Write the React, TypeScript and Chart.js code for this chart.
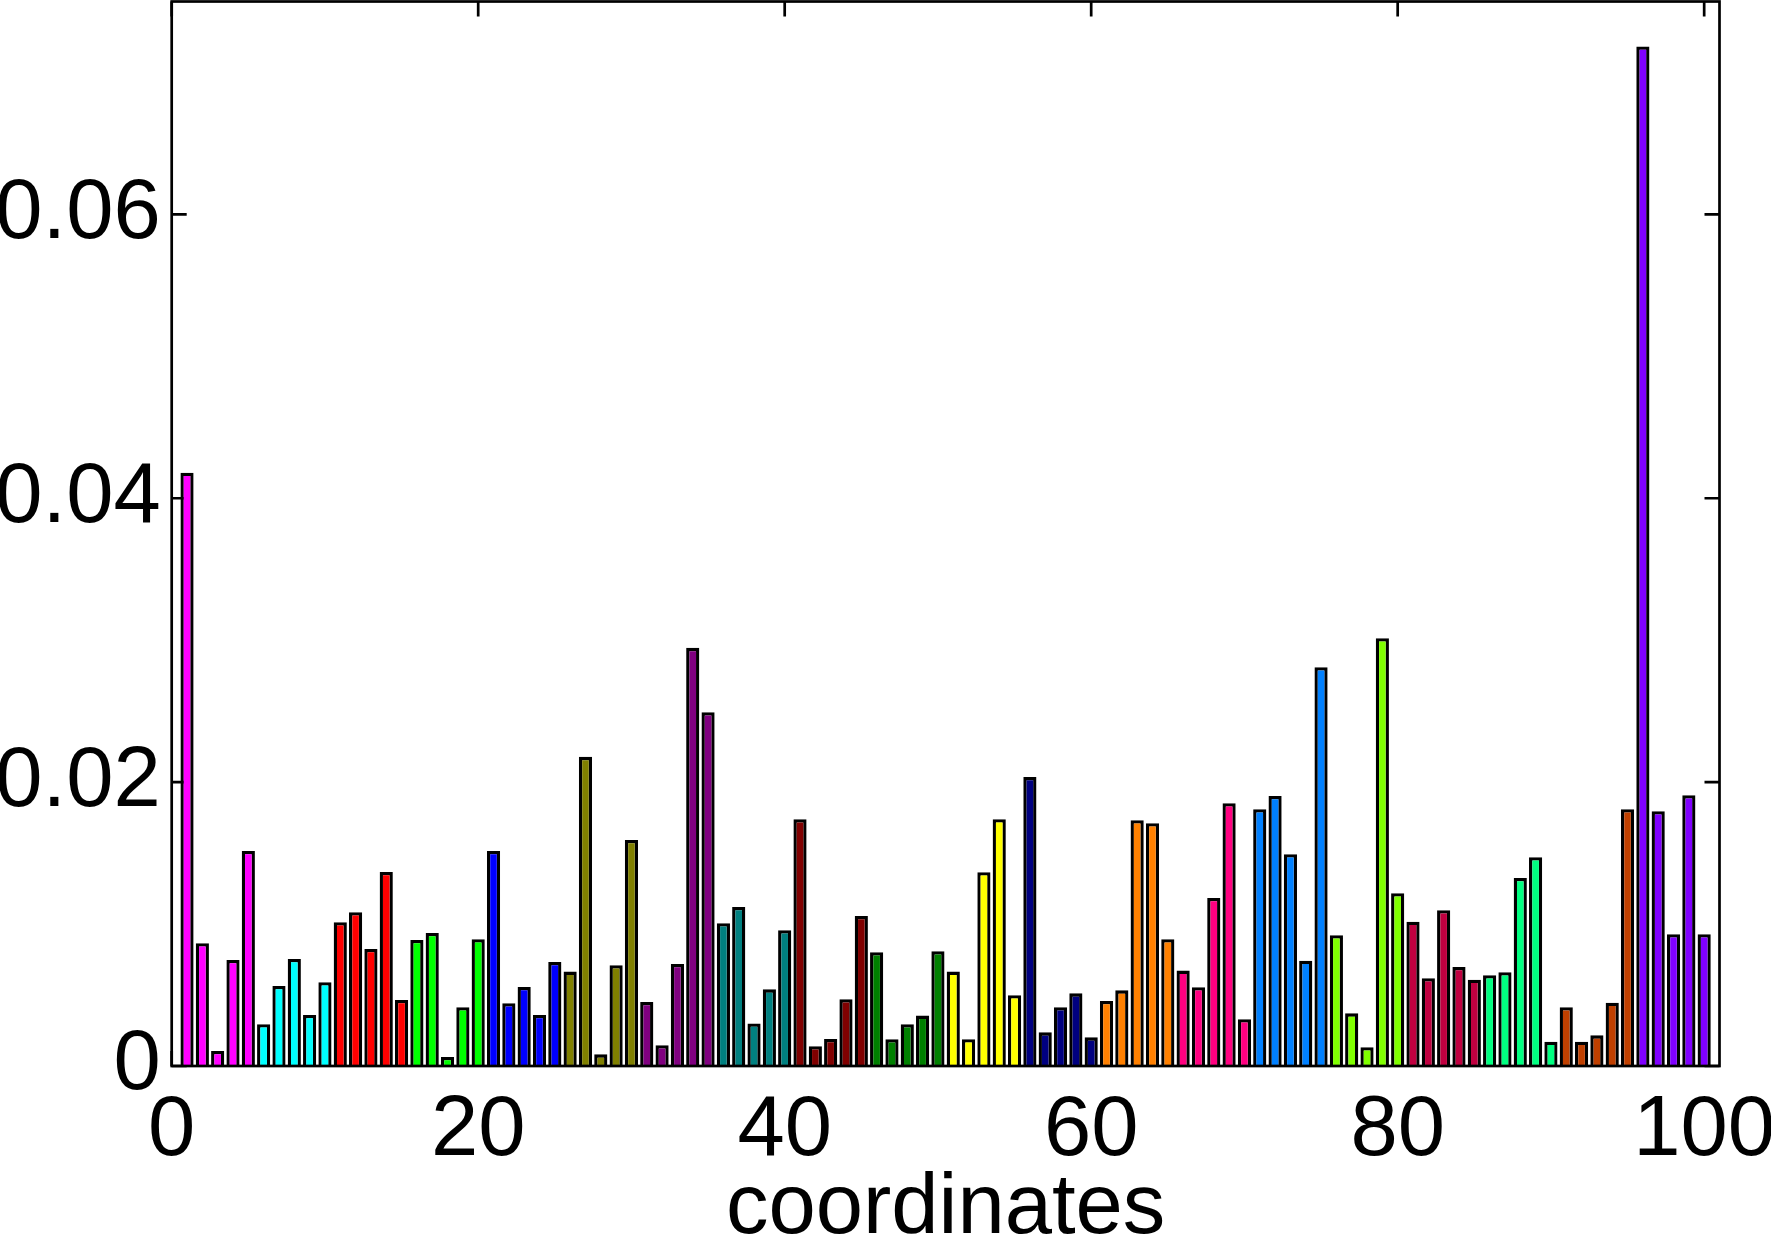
import React, { useEffect, useRef } from 'react';
import { Chart, registerables } from 'chart.js';

Chart.register(...registerables);

// ---------- data ----------
const coordinates = [
  1, 2, 3, 4, 5, 6, 7, 8, 9, 10,
  11, 12, 13, 14, 15, 16, 17, 18, 19, 20,
  21, 22, 23, 24, 25, 26, 27, 28, 29, 30,
  31, 32, 33, 34, 35, 36, 37, 38, 39, 40,
  41, 42, 43, 44, 45, 46, 47, 48, 49, 50,
  51, 52, 53, 54, 55, 56, 57, 58, 59, 60,
  61, 62, 63, 64, 65, 66, 67, 68, 69, 70,
  71, 72, 73, 74, 75, 76, 77, 78, 79, 80,
  81, 82, 83, 84, 85, 86, 87, 88, 89, 90,
  91, 92, 93, 94, 95, 96, 97, 98, 99, 100,
];

const values = [
  0.0418, 0.00865, 0.00106, 0.00747, 0.01515, 0.00294, 0.00564, 0.00754, 0.00359, 0.0059,
  0.01013, 0.01083, 0.00825, 0.01367, 0.00465, 0.00888, 0.00937, 0.00063, 0.00414, 0.00893,
  0.01515, 0.00442, 0.00557, 0.00359, 0.00733, 0.00665, 0.02178, 0.00082, 0.0071, 0.01593,
  0.00451, 0.00146, 0.00719, 0.02946, 0.02493, 0.01006, 0.0112, 0.003, 0.0054, 0.00956,
  0.01738, 0.00139, 0.0019, 0.0047, 0.01057, 0.00801, 0.00188, 0.00294, 0.00355, 0.00808,
  0.00665, 0.00188, 0.01365, 0.01738, 0.00498, 0.02037, 0.00237, 0.00414, 0.00512, 0.00202,
  0.00458, 0.00533, 0.01731, 0.0171, 0.00893, 0.00672, 0.00555, 0.01184, 0.01851, 0.00329,
  0.01809, 0.01903, 0.01492, 0.00742, 0.0281, 0.00922, 0.00371, 0.00132, 0.03014, 0.01217,
  0.01017, 0.00618, 0.01097, 0.00698, 0.00608, 0.00639, 0.0066, 0.01325, 0.01471, 0.00171,
  0.00414, 0.00171, 0.00216, 0.00446, 0.01809, 0.07183, 0.01795, 0.00928, 0.01908, 0.00928,
];

// one colour per group of five coordinates
const groupColors = [
  '#FF00FF', '#00FFFF', '#FF0000', '#00FF00', '#0000FF',
  '#808000', '#800080', '#008080', '#800000', '#008000',
  '#FFFF00', '#000080', '#FF8000', '#FF0080', '#0080FF',
  '#80FF00', '#C00040', '#00FF80', '#C04000', '#8000FF',
];

const xTickValues = [0, 20, 40, 60, 80, 100];
const xTickLabels = ['0', '20', '40', '60', '80', '100'];
const yTickValues = [0, 0.02, 0.04, 0.06];
const yTickLabels = ['0', '0.02', '0.04', '0.06'];
const xTitle = 'coordinates';

// ---------- layout / style ----------
const FONT = '"Liberation Sans", Arial, Helvetica, sans-serif';
const FONT_SIZE = 85;
const OFF_X = 60; // canvas shifted left so that y labels are cut like the reference
const W = 1871;
const H = 1278;
const AREA_LEFT = 171.7 + OFF_X;
const AREA_RIGHT = 1719.5 + OFF_X;
const AREA_TOP = 1.5;
const AREA_BOTTOM = 1066;
const TICK = 15;
const LINE = 2.7;

const framePlugin = {
  id: 'matlabFrame',
  beforeDatasetsDraw(chart: any) {
    const { ctx, chartArea: a, scales } = chart;
    const x = scales.x;
    const y = scales.y;
    ctx.save();
    ctx.strokeStyle = '#000';
    ctx.lineWidth = LINE;
    ctx.beginPath();
    for (const v of xTickValues) {
      const px = x.getPixelForValue(v);
      ctx.moveTo(px, a.top);
      ctx.lineTo(px, a.top + TICK);
      ctx.moveTo(px, a.bottom);
      ctx.lineTo(px, a.bottom - TICK);
    }
    for (const v of yTickValues) {
      const py = y.getPixelForValue(v);
      ctx.moveTo(a.left, py);
      ctx.lineTo(a.left + TICK, py);
      ctx.moveTo(a.right, py);
      ctx.lineTo(a.right - TICK, py);
    }
    ctx.stroke();
    ctx.restore();
  },
  afterDatasetsDraw(chart: any) {
    const { ctx, chartArea: a } = chart;
    ctx.save();
    ctx.strokeStyle = '#000';
    ctx.lineWidth = LINE;
    ctx.strokeRect(a.left, a.top, a.right - a.left, a.bottom - a.top);
    ctx.restore();
  },
};

export default function App() {
  const ref = useRef<HTMLCanvasElement | null>(null);

  useEffect(() => {
    if (!ref.current) return;
    const barColors = values.map((_, i) => groupColors[Math.floor(i / 5)]);
    const chart = new Chart(ref.current, {
      type: 'bar',
      data: {
        datasets: [
          {
            data: coordinates.map((c, i) => ({ x: c, y: values[i] })),
            backgroundColor: barColors,
            borderColor: '#000',
            borderWidth: 3.3,
            borderSkipped: 'start',
            barPercentage: 0.86,
            categoryPercentage: 1,
          } as any,
        ],
      },
      options: {
        responsive: false,
        animation: false,
        devicePixelRatio: 1,
        layout: {
          padding: { left: 0, top: AREA_TOP, right: W - AREA_RIGHT, bottom: 0 },
        },
        plugins: {
          legend: { display: false },
          tooltip: { enabled: false },
          title: { display: false },
        },
        scales: {
          x: {
            type: 'linear',
            min: 0,
            max: 101,
            offset: false,
            grid: { display: false, drawTicks: false, tickLength: 0 },
            border: { display: false },
            afterFit: (s: any) => {
              s.height = H - AREA_BOTTOM;
              s.paddingLeft = 0;
              s.paddingRight = 0;
              s.paddingTop = 0;
              s.paddingBottom = 0;
            },
            afterBuildTicks: (s: any) => {
              s.ticks = xTickValues.map((v) => ({ value: v }));
            },
            ticks: {
              autoSkip: false,
              maxRotation: 0,
              minRotation: 0,
              padding: 23,
              color: '#000',
              font: { family: FONT, size: FONT_SIZE, lineHeight: 1 },
              callback: (v: any) => {
                const i = xTickValues.indexOf(Number(v));
                return i >= 0 ? xTickLabels[i] : '';
              },
            },
            title: {
              display: true,
              text: xTitle,
              color: '#000',
              font: { family: FONT, size: FONT_SIZE, lineHeight: 1 },
              padding: { top: 0, bottom: 26 },
            },
          },
          y: {
            type: 'linear',
            min: 0,
            max: 0.075,
            grid: { display: false, drawTicks: false, tickLength: 0 },
            border: { display: false },
            afterFit: (s: any) => {
              s.width = AREA_LEFT;
              s.paddingLeft = 0;
              s.paddingRight = 0;
              s.paddingTop = 0;
              s.paddingBottom = 0;
            },
            afterBuildTicks: (s: any) => {
              s.ticks = yTickValues.map((v) => ({ value: v }));
            },
            ticks: {
              padding: 11,
              color: '#000',
              font: { family: FONT, size: FONT_SIZE, lineHeight: 1 },
              callback: (v: any) => {
                const i = yTickValues.findIndex((t) => Math.abs(t - Number(v)) < 1e-9);
                return i >= 0 ? yTickLabels[i] : '';
              },
            },
          },
        },
      },
      plugins: [framePlugin],
    });
    return () => chart.destroy();
  }, []);

  return (
    <div
      style={{
        position: 'fixed',
        left: 0,
        top: 0,
        width: '100vw',
        height: '100vh',
        overflow: 'hidden',
        background: '#fff',
      }}
    >
      <canvas
        ref={ref}
        width={W}
        height={H}
        style={{ position: 'absolute', left: -OFF_X, top: 0, width: W, height: H }}
      />
    </div>
  );
}
